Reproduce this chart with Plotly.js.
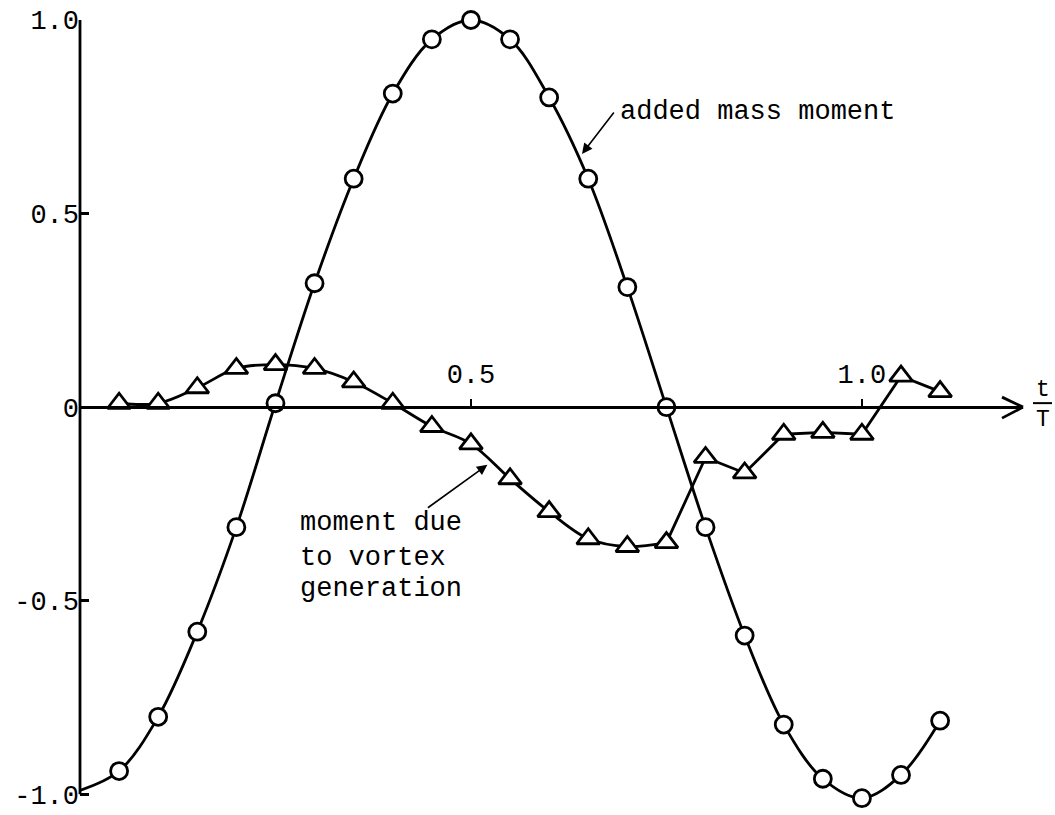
<!DOCTYPE html>
<html>
<head>
<meta charset="utf-8">
<script src="https://cdn.plot.ly/plotly-3.0.1.min.js"></script>
<style>html,body{margin:0;padding:0;background:#fff;}#chart{width:1055px;height:815px;}</style>
</head>
<body>
<div id="chart"></div>
<script>
// ---- data ----
const addedMassT = [0, 0.05, 0.10, 0.15, 0.20, 0.25, 0.30, 0.35, 0.40, 0.45, 0.50, 0.55,
                    0.60, 0.65, 0.70, 0.75, 0.80, 0.85, 0.90, 0.95, 1.00, 1.05, 1.10];
const addedMassMoment = [-0.99, -0.94, -0.80, -0.58, -0.31, 0.01, 0.32, 0.59, 0.81, 0.95, 1.00, 0.95,
                         0.80, 0.59, 0.31, 0.00, -0.31, -0.59, -0.82, -0.96, -1.01, -0.95, -0.81];

const vortexT = [0.05, 0.10, 0.15, 0.20, 0.25, 0.30, 0.35, 0.40, 0.45, 0.50, 0.55, 0.60,
                 0.65, 0.70, 0.75, 0.80, 0.85, 0.90, 0.95, 1.00, 1.05, 1.10];
const vortexMoment = [0.01, 0.01, 0.05, 0.10, 0.11, 0.10, 0.065, 0.01, -0.05, -0.095, -0.185, -0.27,
                      -0.34, -0.36, -0.35, -0.13, -0.17, -0.07, -0.065, -0.07, 0.08, 0.04];

const yTickVals = [1.0, 0.5, 0, -0.5, -1.0];
const yTickText = ["1.0", "0.5", "0", "-0.5", "-1.0"];
const xTickVals = [0.5, 1.0];
const xTickText = ["0.5", "1.0"];

const labelAdded = "added mass moment";
const labelVortex = ["moment due", "to vortex", "generation"];

// ---- styling ----
const FONT = "Liberation Mono, Courier New, monospace";
const BLACK = "#000";
const smoothEnd = 15; // index in vortex arrays where the smooth part ends (t = 0.75)
const Y_MIN = -1.02, Y_MAX = 1.0;

const traces = [
  { // added mass curve (smooth)
    x: addedMassT, y: addedMassMoment, mode: "lines", type: "scatter",
    line: {color: BLACK, width: 2.8, shape: "spline", smoothing: 1}, cliponaxis: false
  },
  { // vortex curve, smooth part
    x: vortexT.slice(0, smoothEnd), y: vortexMoment.slice(0, smoothEnd), mode: "lines", type: "scatter",
    line: {color: BLACK, width: 2.8, shape: "spline", smoothing: 1}, cliponaxis: false
  },
  { // vortex curve, straight part
    x: vortexT.slice(smoothEnd - 1), y: vortexMoment.slice(smoothEnd - 1), mode: "lines", type: "scatter",
    line: {color: BLACK, width: 2.8}, cliponaxis: false
  },
  { // circles
    x: addedMassT.slice(1), y: addedMassMoment.slice(1), mode: "markers", type: "scatter",
    marker: {symbol: "circle", size: 17, color: "#fff", line: {color: BLACK, width: 2.8}}, cliponaxis: false
  },
  { // triangles
    x: vortexT, y: vortexMoment, mode: "markers", type: "scatter",
    marker: {symbol: "triangle-up", size: 20, color: "#fff", line: {color: BLACK, width: 2.8}}, cliponaxis: false
  }
];

const annotations = [
  {x: 0.688, y: 0.762, xref: "x", yref: "y", text: labelAdded, showarrow: false,
   xanchor: "left", yanchor: "middle", font: {family: FONT, size: 27, color: BLACK}},
  {x: 0.642, y: 0.654, xref: "x", yref: "y", text: "", showarrow: true,
   ax: 33, ay: -43, arrowhead: 2, arrowsize: 1.3, arrowwidth: 1.6, arrowcolor: BLACK},
  {x: 0.279, y: -0.30, xref: "x", yref: "y", text: labelVortex[0], showarrow: false,
   xanchor: "left", yanchor: "middle", font: {family: FONT, size: 27, color: BLACK}},
  {x: 0.279, y: -0.39, xref: "x", yref: "y", text: labelVortex[1], showarrow: false,
   xanchor: "left", yanchor: "middle", font: {family: FONT, size: 27, color: BLACK}},
  {x: 0.279, y: -0.47, xref: "x", yref: "y", text: labelVortex[2], showarrow: false,
   xanchor: "left", yanchor: "middle", font: {family: FONT, size: 27, color: BLACK}},
  {x: 0.521, y: -0.149, xref: "x", yref: "y", text: "", showarrow: true,
   ax: -61, ay: 44, arrowhead: 2, arrowsize: 1.3, arrowwidth: 1.6, arrowcolor: BLACK},
  {x: 1.0, y: 0, xref: "paper", yref: "y", text: "t", showarrow: false,
   xanchor: "center", yanchor: "middle", xshift: 20, yshift: 17,
   font: {family: FONT, size: 23, color: BLACK}},
  {x: 1.0, y: 0, xref: "paper", yref: "y", text: "T", showarrow: false,
   xanchor: "center", yanchor: "middle", xshift: 20, yshift: -13,
   font: {family: FONT, size: 23, color: BLACK}}
];

const shapes = [
  // open arrowhead at the end of the t/T axis
  {type: "line", xref: "paper", yref: "y", xsizemode: "pixel", ysizemode: "pixel",
   xanchor: 1, yanchor: 0, x0: -21, y0: 10, x1: 0, y1: 0, line: {color: BLACK, width: 2.8}},
  {type: "line", xref: "paper", yref: "y", xsizemode: "pixel", ysizemode: "pixel",
   xanchor: 1, yanchor: 0, x0: -21, y0: -11, x1: 0, y1: 0, line: {color: BLACK, width: 2.8}},
  // fraction bar of t/T
  {type: "line", xref: "paper", yref: "y", xsizemode: "pixel", ysizemode: "pixel",
   xanchor: 1, yanchor: 0, x0: 10, y0: 4, x1: 29, y1: 4, line: {color: BLACK, width: 2}},
  // vertical axis line from -1.0 to 1.0
  {type: "line", xref: "paper", yref: "y", x0: 0, x1: 0, y0: -1.0, y1: Y_MAX,
   line: {color: BLACK, width: 2.8}}
];

const layout = {
  width: 1055, height: 815,
  margin: {l: 80, r: 32, t: 20, b: 13},
  paper_bgcolor: "#fff", plot_bgcolor: "#fff",
  showlegend: false, hovermode: false,
  font: {family: FONT, size: 26, color: BLACK},
  xaxis: {
    range: [0, 1.206], side: "top", anchor: "free", position: (0 - Y_MIN) / (Y_MAX - Y_MIN),
    showline: true, linecolor: BLACK, linewidth: 2.8,
    ticks: "outside", ticklen: 7, tickwidth: 2, tickcolor: BLACK,
    tickvals: xTickVals, ticktext: xTickText, ticklabelstandoff: 5,
    tickfont: {family: FONT, size: 27, color: BLACK},
    showgrid: false, zeroline: false, fixedrange: true
  },
  yaxis: {
    range: [Y_MIN, Y_MAX],
    showline: false,
    ticks: "inside", ticklen: 9, tickwidth: 2.5, tickcolor: BLACK,
    tickvals: yTickVals, ticktext: yTickText, ticklabeloverflow: "allow",
    tickfont: {family: FONT, size: 27, color: BLACK},
    showgrid: false, zeroline: false, fixedrange: true
  },
  annotations: annotations,
  shapes: shapes
};

Plotly.newPlot("chart", traces, layout, {staticPlot: true, displayModeBar: false});
</script>
</body>
</html>
